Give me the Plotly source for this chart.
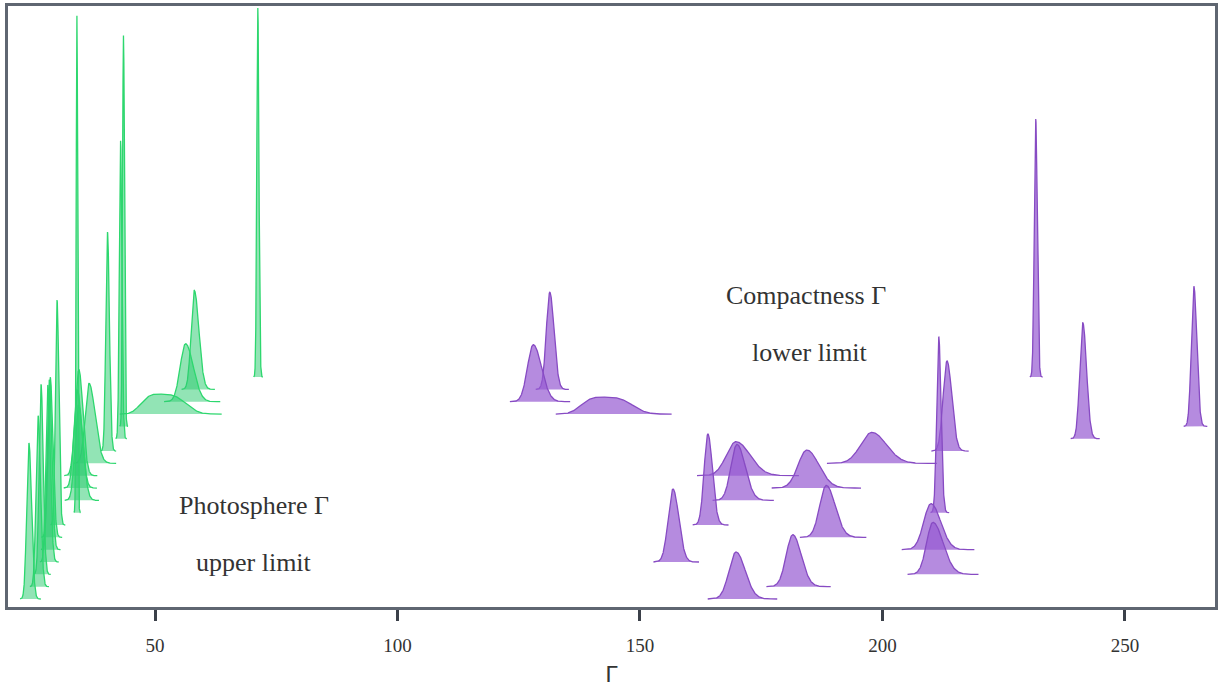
import numpy as np
import plotly.graph_objects as go

# ---- data (rows from bottom to top; each row has a photosphere and a compactness distribution) ----
rows = list(range(19))

# Photosphere Gamma (upper limit) distributions
g_center = [24.0, 25.9, 26.5, 27.9, 28.2, 28.4, 29.8, 33.9, 34.2, 34.0,
            34.3, 36.4, 40.2, 42.9, 43.5, 51.0, 56.3, 58.1, 71.2]
g_sig_left = [0.45, 0.42, 0.38, 0.40, 0.42, 0.45, 0.33, 0.15, 0.70, 0.70,
              0.75, 0.80, 0.34, 0.25, 0.19, 3.6, 1.1, 0.65, 0.21]
g_sig_right = [0.55, 0.50, 0.45, 0.50, 0.52, 0.55, 0.38, 0.16, 0.95, 0.90,
               0.85, 1.25, 0.40, 0.29, 0.21, 5.0, 1.6, 0.95, 0.23]
g_shape = [2, 2, 2, 2, 2, 2, 2, 2, 2, 2, 2, 2, 2, 2, 2, 3.2, 2, 2, 2]
g_height = [156, 171, 190, 177, 170, 160, 225, 497, 95, 98,
            106, 80, 219, 298, 391, 20, 58, 99, 369]

# Compactness Gamma (lower limit) distributions
p_center = [169.8, 181.5, 210.4, 156.8, 210.0, 188.4, 164.0, 211.6, 170.0, 184.4,
            169.8, 197.8, 213.3, 241.3, 264.2, 142.5, 128.0, 131.4, 231.6]
p_sig_left = [1.45, 1.35, 1.30, 1.00, 1.50, 1.35, 0.78, 0.42, 1.25, 1.80,
              2.00, 2.30, 0.80, 0.62, 0.52, 4.3, 1.2, 0.72, 0.30]
p_sig_right = [1.90, 1.75, 2.10, 1.20, 2.00, 1.85, 0.95, 0.48, 1.70, 2.50,
               2.90, 3.00, 1.00, 0.78, 0.62, 5.5, 1.7, 0.88, 0.32]
p_shape = [2, 2, 2, 2, 2, 2, 2, 2, 2, 2, 2, 2, 2, 2, 2, 3.2, 2, 2, 2]
p_height = [47, 52, 52, 73, 46, 52, 91, 176, 56, 38,
            34, 31, 90, 116, 140, 17, 57, 97, 258]

x_ticks = [50, 100, 150, 200, 250]

# ---- style ----
ROW_STEP = 12.33
ROW0 = 8.0
TAIL_K = 10.0
GREEN_LINE = "rgb(45,215,110)"
GREEN_FILL = "rgba(46,204,113,0.52)"
PURPLE_LINE = "rgb(135,75,195)"
PURPLE_FILL = "rgba(150,90,210,0.70)"
FRAME = "#5f6671"


def curve(c, sl, sr, p, h):
    zmax = (2 * TAIL_K) ** (1.0 / p)
    xs = np.linspace(c - 0.9 * zmax * sl, c + zmax * sr, 300)
    z = np.where(xs < c, (xs - c) / sl, (xs - c) / sr)
    return xs, h * np.exp(-0.5 * np.abs(z) ** p)


fig = go.Figure()


def add_ridge(c, sl, sr, p, h, row, line_col, fill_col):
    xs, d = curve(c, sl, sr, p, h)
    base = ROW0 + row * ROW_STEP
    fig.add_trace(go.Scatter(
        x=np.concatenate([xs, xs[::-1]]),
        y=np.concatenate([base + d, np.full_like(xs, base)]),
        fill="toself", fillcolor=fill_col, mode="lines",
        line=dict(width=0, color=fill_col), hoverinfo="skip", showlegend=False))
    fig.add_trace(go.Scatter(
        x=xs, y=base + d, mode="lines",
        line=dict(width=1.3, color=line_col), hoverinfo="skip", showlegend=False))


for i in reversed(rows):
    add_ridge(g_center[i], g_sig_left[i], g_sig_right[i], g_shape[i], g_height[i], i,
              GREEN_LINE, GREEN_FILL)
    add_ridge(p_center[i], p_sig_left[i], p_sig_right[i], p_shape[i], p_height[i], i,
              PURPLE_LINE, PURPLE_FILL)

serif = "Liberation Serif, Times New Roman, serif"
ann_font = dict(family=serif, size=26, color="#333333")
annotations = [
    dict(x=70.4, y=102, text="Photosphere Γ"),
    dict(x=70.4, y=45, text="upper limit"),
    dict(x=184.2, y=312, text="Compactness Γ"),
    dict(x=185.1, y=255, text="lower limit"),
]
for a in annotations:
    a.update(xref="x", yref="y", showarrow=False, font=ann_font,
             xanchor="center", yanchor="middle")

fig.update_layout(
    width=1221, height=690,
    margin=dict(l=8, r=6, t=6, b=83),
    paper_bgcolor="white", plot_bgcolor="white",
    annotations=annotations,
    xaxis=dict(
        range=[19.69, 268.56], tickvals=x_ticks, ticktext=[str(t) for t in x_ticks],
        automargin=False,
        showgrid=False, zeroline=False, showline=True, mirror=True,
        linecolor=FRAME, linewidth=3,
        ticks="outside", ticklen=11, tickwidth=2.5, tickcolor="#3b4049",
        ticklabelstandoff=8,
        tickfont=dict(family=serif, size=19, color="#333333"),
        title=dict(text="Γ", font=dict(family="DejaVu Sans, sans-serif", size=22, color="#333333"),
                   standoff=12),
    ),
    yaxis=dict(
        range=[0, 601], showgrid=False, zeroline=False, showticklabels=False,
        automargin=False,
        showline=True, mirror=True, linecolor=FRAME, linewidth=3, ticks="",
    ),
)

fig.write_html("out.html")
